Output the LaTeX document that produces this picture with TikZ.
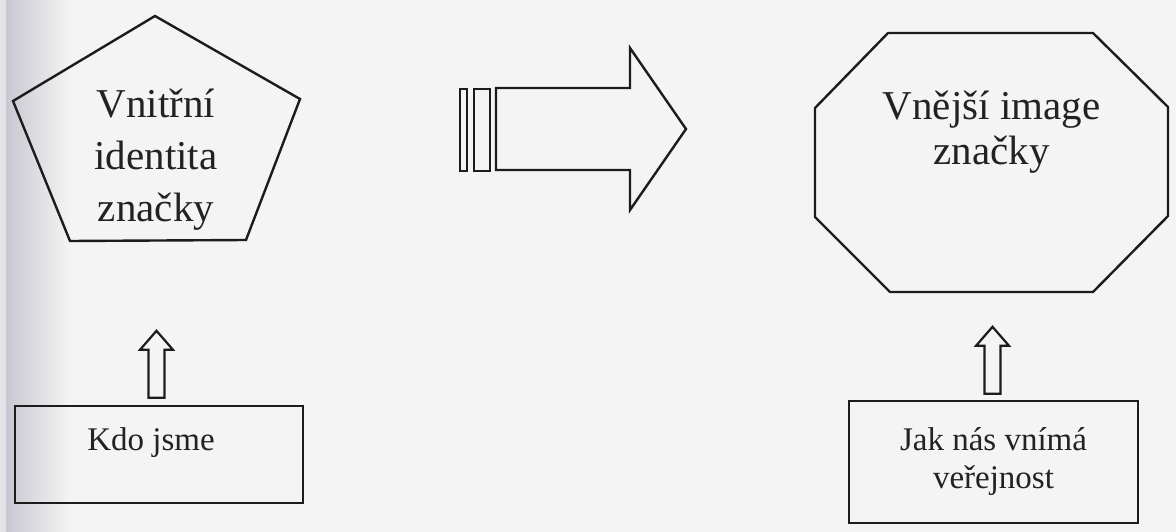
\documentclass[tikz,border=0pt]{standalone}
\usepackage{fontspec}
\usetikzlibrary{calc}
\setmainfont{Liberation Serif}
\definecolor{ink}{HTML}{1C1C1C}
\definecolor{txt}{HTML}{222222}
\definecolor{paper}{HTML}{F4F4F4}
\definecolor{scanedge}{HTML}{C9C8D2}
\definecolor{scanrim}{HTML}{E4E4E8}
\tikzset{
  outline/.style={draw=ink, line width=2.4pt, line join=miter},
  bigtext/.style={font=\fontsize{41}{52}\selectfont, align=center, text=txt, inner sep=0pt},
  boxtext/.style={font=\fontsize{33}{38}\selectfont, align=center, text=txt, inner sep=0pt},
  box/.style={draw=ink, line width=2.4pt, inner sep=0pt},
  blockarrow/.style={draw=ink, line width=2.2pt, line join=miter},
  uparrow/.pic={\draw[blockarrow] (-8,0) -- (-8,-48) -- (-16.5,-48) -- (0,-67) -- (16.5,-48) -- (8,-48) -- (8,0) -- cycle;}
}
\begin{document}
\begin{tikzpicture}[x=1pt,y=-1pt]
\useasboundingbox (0,0) rectangle (1176,532);
\fill[paper] (0,0) rectangle (1176,532);
\shade[left color=scanedge, right color=paper, shading angle=90] (6,0) rectangle (70,532);
\fill[scanrim] (0,0) rectangle (6,532);

% pentagon: inner identity
\draw[outline] (155,16) -- (300,99) -- (246,240) -- (70,241) -- (13,101) -- cycle;
\node[bigtext] (inner) at (156,160) {Vnitřní\\identita\\značky};

% octagon: outer image
\draw[outline] (888,33) -- (1093,33) -- (1168,107) -- (1168,216) -- (1093,292) -- (890,292) -- (815,217) -- (815,108) -- cycle;
\node[font=\fontsize{41}{45}\selectfont, align=center, text=txt, inner sep=0pt] (outer) at (991.5,132) {Vnější image\\značky};

% big arrow
\draw[outline] (460,89) rectangle (467,171);
\draw[outline] (474,89) rectangle (490,171);
\draw[outline] (496,88) -- (630,88) -- (630,48) -- (686,129) -- (630,210) -- (630,170) -- (496,170) -- cycle;

% bottom boxes
\node[box, minimum width=288pt, minimum height=97pt] (whobox) at (159,454.5) {};
\node[boxtext] (who) at (151,443) {Kdo jsme};
\node[box, minimum width=289pt, minimum height=122pt, boxtext] (public) at (993.5,462) {Jak nás vnímá\\veřejnost};

% small block arrows
\coordinate (la) at ($(whobox.north)+(-2.5,-7)$);
\coordinate (ra) at ($(public.north)+(-1,-6)$);
\pic at (la) {uparrow};
\pic at (ra) {uparrow};
\end{tikzpicture}
\end{document}
